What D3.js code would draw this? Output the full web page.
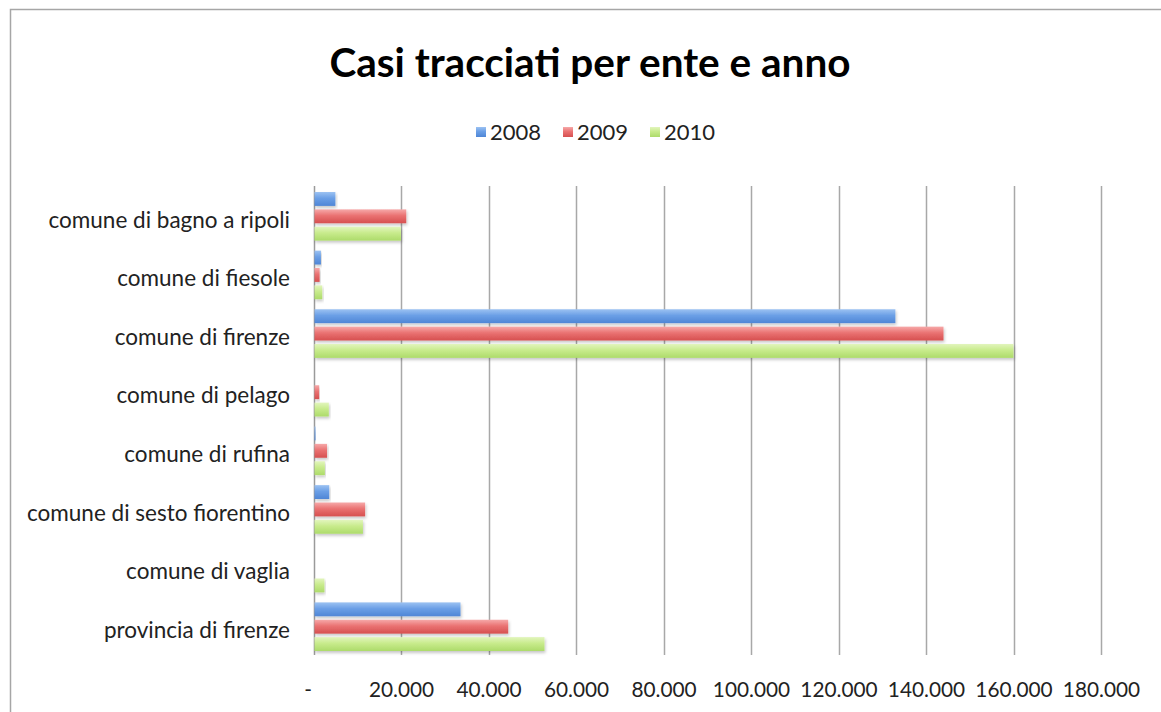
<!DOCTYPE html>
<html>
<head>
<meta charset="utf-8">
<script src="https://cdn.jsdelivr.net/npm/d3@7"></script>
<style>
  html, body { margin: 0; padding: 0; background: #fff; }
  svg { display: block; }
</style>
</head>
<body>
<svg id="chart" width="1161" height="712"></svg>
<script>
// Cases tracked per body and year
const categories = [
  "comune di bagno a ripoli",
  "comune di fiesole",
  "comune di firenze",
  "comune di pelago",
  "comune di rufina",
  "comune di sesto fiorentino",
  "comune di vaglia",
  "provincia di firenze"
];
const years = ["2008", "2009", "2010"];
const values2008 = [5000, 1700, 133000, 0, 400, 3600, 0, 33600];
const values2009 = [21200, 1400, 144000, 1300, 3100, 11800, 0, 44500];
const values2010 = [20000, 2000, 160000, 3500, 2600, 11300, 2500, 52800];
const tickValues = [0, 20000, 40000, 60000, 80000, 100000, 120000, 140000, 160000, 180000];

const seriesValues = [values2008, values2009, values2010];
const fontFamily = "Lato, 'Open Sans', sans-serif";

const svg = d3.select("#chart");

// gradient fills
const defs = svg.append("defs");
const grads = [
  ["g2008", ["#9cc2f2", "#6b9fe6", "#4f86d6"]],
  ["g2009", ["#f6a9a9", "#ea7272", "#d65050"]],
  ["g2010", ["#e2f5bd", "#c8eb8c", "#addb6a"]]
];
grads.forEach(([id, stops]) => {
  const g = defs.append("linearGradient").attr("id", id)
    .attr("x1", 0).attr("y1", 0).attr("x2", 0).attr("y2", 1);
  g.append("stop").attr("offset", "0%").attr("stop-color", stops[0]);
  g.append("stop").attr("offset", "45%").attr("stop-color", stops[1]);
  g.append("stop").attr("offset", "100%").attr("stop-color", stops[2]);
});
const shadow = defs.append("filter").attr("id", "shadow")
  .attr("x", "-5%").attr("y", "-30%").attr("width", "115%").attr("height", "170%");
shadow.append("feDropShadow").attr("dx", 1).attr("dy", 2).attr("stdDeviation", 1.5)
  .attr("flood-color", "#000").attr("flood-opacity", 0.22);

// chart frame
svg.append("path")
  .attr("d", "M10.5,712 L10.5,9.5 L1161,9.5")
  .attr("fill", "none").attr("stroke", "#a6a6a6").attr("stroke-width", 1.5);

// title
svg.append("text")
  .attr("x", 590).attr("y", 77)
  .attr("text-anchor", "middle")
  .attr("font-family", fontFamily)
  .attr("font-weight", "bold")
  .attr("font-size", 40.5)
  .attr("fill", "#000")
  .text("Casi tracciati per ente e anno");

// legend
const legendX = [476, 563, 650];
years.forEach((yr, i) => {
  const g = svg.append("g").attr("transform", `translate(${legendX[i]},132)`);
  g.append("rect").attr("x", 0).attr("y", -5).attr("width", 10).attr("height", 10)
    .attr("fill", `url(#${grads[i][0]})`);
  g.append("text").attr("x", 14).attr("y", 8)
    .attr("font-family", fontFamily).attr("font-size", 22).attr("fill", "#222")
    .text(yr);
});

// scales
const x = d3.scaleLinear().domain([0, 180000]).range([313.5, 1101]);
const y = d3.scaleBand().domain(categories).range([186, 655]).paddingInner(0).paddingOuter(0);
const sub = d3.scaleBand().domain(years).range([6, y.bandwidth() - 4]).paddingInner(0.2);

// vertical gridlines
svg.append("g")
  .selectAll("line")
  .data(tickValues)
  .join("line")
  .attr("x1", d => Math.round(x(d)) + 0.5)
  .attr("x2", d => Math.round(x(d)) + 0.5)
  .attr("y1", 186).attr("y2", 655)
  .attr("stroke", d => d === 0 ? "#9a9a9a" : "#a8a8a8")
  .attr("stroke-width", 1.5);

// x axis labels
const xAxis = d3.axisBottom(x)
  .tickValues(tickValues)
  .tickSize(0)
  .tickFormat(d => d === 0 ? "-" : d3.format(",")(d).replace(/,/g, "."));
const xa = svg.append("g").attr("transform", "translate(0,679)").call(xAxis);
xa.select(".domain").remove();
xa.selectAll("text")
  .attr("font-family", fontFamily).attr("font-size", 20.8).attr("fill", "#222");
xa.selectAll(".tick").filter(d => d === 0).select("text").attr("dx", -6);

// y axis labels
const yAxis = d3.axisLeft(y).tickSize(0).tickPadding(24);
const ya = svg.append("g").attr("transform", "translate(314,5)").call(yAxis);
ya.select(".domain").remove();
ya.selectAll("text")
  .attr("font-family", fontFamily).attr("font-size", 22.5).attr("fill", "#222");

// bars
const groups = svg.append("g")
  .selectAll("g")
  .data(categories)
  .join("g")
  .attr("transform", d => `translate(0,${y(d)})`);

groups.selectAll("rect")
  .data((c, ci) => years.map((yr, si) => ({ yr, si, v: seriesValues[si][ci] })))
  .join("rect")
  .filter(d => d.v > 0)
  .attr("x", x(0) + 1)
  .attr("y", d => sub(d.yr))
  .attr("width", d => Math.max(1, x(d.v) - x(0) - 1))
  .attr("height", sub.bandwidth())
  .attr("fill", d => `url(#${grads[d.si][0]})`)
  .attr("filter", "url(#shadow)");
</script>
</body>
</html>
